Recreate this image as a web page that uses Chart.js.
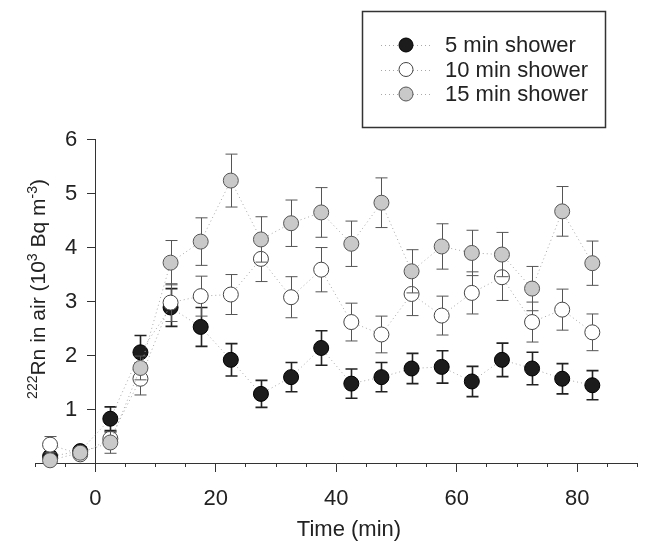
<!DOCTYPE html>
<html>
<head>
<meta charset="utf-8">
<script src="https://cdn.jsdelivr.net/npm/chart.js@4.4.1/dist/chart.umd.min.js"></script>
<style>
  html, body { margin: 0; padding: 0; background: #fff; }
  #wrap { width: 646px; height: 543px; position: relative; }
</style>
</head>
<body>
<div id="wrap"><canvas id="radonChart"></canvas></div>
<script>
// sampling times (min)
const times = [-7.5, -2.5, 2.5, 7.5, 12.5, 17.5, 22.5, 27.5, 32.5, 37.5, 42.5, 47.5, 52.5, 57.5, 62.5, 67.5, 72.5, 77.5, 82.5];

// 222Rn in air, 10^3 Bq m-3
const shower5 = [0.12, 0.22, 0.82, 2.05, 2.88, 2.52, 1.91, 1.28, 1.59, 2.13, 1.47, 1.59, 1.75, 1.78, 1.51, 1.91, 1.75, 1.56, 1.44];
const shower5Err = [0.05, 0.08, 0.22, 0.31, 0.35, 0.36, 0.30, 0.25, 0.27, 0.32, 0.27, 0.27, 0.28, 0.30, 0.28, 0.31, 0.30, 0.28, 0.27];

const shower10 = [0.34, 0.16, 0.45, 1.56, 2.97, 3.09, 3.12, 3.78, 3.07, 3.58, 2.61, 2.38, 3.13, 2.73, 3.15, 3.44, 2.61, 2.84, 2.42];
const shower10Err = [0.15, 0.05, 0.12, 0.30, 0.35, 0.37, 0.37, 0.42, 0.38, 0.41, 0.35, 0.34, 0.40, 0.36, 0.39, 0.43, 0.37, 0.38, 0.34];

const shower15 = [0.05, 0.19, 0.38, 1.76, 3.71, 4.10, 5.23, 4.14, 4.44, 4.64, 4.06, 4.82, 3.55, 4.01, 3.89, 3.86, 3.23, 4.66, 3.70];
const shower15Err = [0.05, 0.05, 0.20, 0.22, 0.41, 0.44, 0.49, 0.42, 0.43, 0.46, 0.42, 0.46, 0.40, 0.42, 0.42, 0.41, 0.41, 0.46, 0.41];

const seriesLabels = ['5 min shower', '10 min shower', '15 min shower'];

const xMajorTicks = [0, 20, 40, 60, 80];
const xMinorTicks = [-10, -5, 5, 10, 15, 25, 30, 35, 45, 50, 55, 65, 70, 75, 85, 90];
const yTicks = [1, 2, 3, 4, 5, 6];

const FONT = 'Arial, "Liberation Sans", sans-serif';
const INK = '#222';

function points(vals) {
  return vals.map((v, i) => ({ x: times[i], y: v }));
}

function series(label, vals, errs, fill, edge, errColor, errWidth, order) {
  return {
    label: label,
    data: points(vals),
    errors: errs,
    errorColor: errColor,
    errorWidth: errWidth,
    showLine: true,
    borderColor: '#a8a8a8',
    borderWidth: 1,
    borderDash: [1, 3],
    pointRadius: 7.5,
    pointBackgroundColor: fill,
    pointBorderColor: edge,
    pointBorderWidth: 1,
    clip: false,
    order: order
  };
}

// error bars drawn just before each dataset's own line and symbols
const errorBars = {
  id: 'errorBars',
  beforeDatasetDraw(chart, args) {
    const ds = chart.data.datasets[args.index];
    if (!ds.errors) return;
    const xs = chart.scales.x, ys = chart.scales.y;
    const ctx = chart.ctx;
    ctx.save();
    ctx.strokeStyle = ds.errorColor;
    ctx.lineWidth = ds.errorWidth;
    ds.data.forEach((p, i) => {
      const px = Math.round(xs.getPixelForValue(p.x)) + 0.5;
      const top = ys.getPixelForValue(p.y + ds.errors[i]);
      const bot = ys.getPixelForValue(p.y - ds.errors[i]);
      ctx.beginPath();
      ctx.moveTo(px, top); ctx.lineTo(px, bot);
      ctx.moveTo(px - 6, top); ctx.lineTo(px + 6, top);
      ctx.moveTo(px - 6, bot); ctx.lineTo(px + 6, bot);
      ctx.stroke();
    });
    ctx.restore();
  }
};

// y tick labels (axis sits at x = 0), boxed legend, axis titles
const decorations = {
  id: 'decorations',
  afterDraw(chart) {
    const ctx = chart.ctx;
    const xs = chart.scales.x, ys = chart.scales.y;
    ctx.save();

    // y tick labels, left of the tick marks
    const axisX = xs.getPixelForValue(0);
    ctx.fillStyle = INK;
    ctx.font = '22px ' + FONT;
    ctx.textAlign = 'right';
    ctx.textBaseline = 'middle';
    yTicks.forEach(v => ctx.fillText(String(v), axisX - 18, ys.getPixelForValue(v) + 1));

    // legend
    ctx.strokeStyle = '#333';
    ctx.lineWidth = 1.5;
    ctx.strokeRect(362.5, 11.5, 243, 116);
    chart.data.datasets.forEach((ds, i) => {
      const cy = 45 + i * 24.5;
      ctx.strokeStyle = ds.borderColor;
      ctx.lineWidth = 1;
      ctx.setLineDash([1, 3]);
      ctx.beginPath();
      ctx.moveTo(381, Math.round(cy) + 0.5); ctx.lineTo(431, Math.round(cy) + 0.5);
      ctx.stroke();
      ctx.setLineDash([]);
      ctx.beginPath();
      ctx.arc(406, cy, 7, 0, Math.PI * 2);
      ctx.fillStyle = ds.pointBackgroundColor;
      ctx.fill();
      ctx.strokeStyle = ds.pointBorderColor;
      ctx.stroke();
      ctx.fillStyle = INK;
      ctx.font = '22px ' + FONT;
      ctx.textBaseline = 'middle';
      ctx.textAlign = 'left';
      ctx.fillText(ds.label, 445, cy + 1);
    });

    // x title
    ctx.font = '22px ' + FONT;
    ctx.textAlign = 'center';
    ctx.textBaseline = 'alphabetic';
    ctx.fillText('Time (min)', 349, 536);

    // y title
    const parts = [
      ['222', true], ['Rn in air (10', false], ['3', true],
      [' Bq m', false], ['-3', true], [')', false]
    ];
    const big = '21px ' + FONT, small = '14px ' + FONT;
    let total = 0;
    parts.forEach(p => { ctx.font = p[1] ? small : big; total += ctx.measureText(p[0]).width; });
    ctx.translate(45, 289);
    ctx.rotate(-Math.PI / 2);
    ctx.textAlign = 'left';
    let cx = -total / 2;
    parts.forEach(p => {
      ctx.font = p[1] ? small : big;
      ctx.fillText(p[0], cx, p[1] ? -8 : 0);
      cx += ctx.measureText(p[0]).width;
    });
    ctx.restore();
  }
};

const ctx = document.getElementById('radonChart').getContext('2d');

new Chart(ctx, {
  type: 'scatter',
  data: {
    datasets: [
      series(seriesLabels[0], shower5, shower5Err, '#1c1c1c', '#000', '#222', 1.6, 3),
      series(seriesLabels[1], shower10, shower10Err, '#ffffff', '#444', '#555', 1, 2),
      series(seriesLabels[2], shower15, shower15Err, '#c9c9c9', '#555', '#555', 1, 1)
    ]
  },
  options: {
    responsive: true,
    maintainAspectRatio: false,
    animation: false,
    layout: { padding: { left: 35, right: 7, top: 139, bottom: 0 } },
    plugins: {
      legend: { display: false },
      tooltip: { enabled: false }
    },
    scales: {
      x: {
        type: 'linear',
        position: 'bottom',
        min: -10,
        max: 90,
        afterBuildTicks: s => { s.ticks = xMajorTicks.map(v => ({ value: v })); },
        afterFit: s => { s.height = 80; },
        grid: { drawOnChartArea: false, tickLength: 9, tickColor: '#333', tickWidth: 1 },
        border: { color: '#333', width: 1 },
        ticks: { color: INK, padding: 14, font: { family: FONT, size: 22 }, maxRotation: 0 }
      },
      xMinor: {
        type: 'linear',
        axis: 'x',
        position: { y: 0 },
        min: -10,
        max: 90,
        afterBuildTicks: s => { s.ticks = xMinorTicks.map(v => ({ value: v })); },
        grid: { drawOnChartArea: false, tickLength: 4, tickColor: '#333', tickWidth: 1 },
        border: { display: false },
        ticks: { display: false }
      },
      y: {
        type: 'linear',
        axis: 'y',
        position: { x: 0 },
        min: 0,
        max: 6,
        afterBuildTicks: s => { s.ticks = yTicks.map(v => ({ value: v })); },
        grid: { drawOnChartArea: false, tickLength: 8, tickColor: '#333', tickWidth: 1 },
        border: { color: '#333', width: 1 },
        ticks: { display: false }
      }
    }
  },
  plugins: [errorBars, decorations]
});
</script>
</body>
</html>
